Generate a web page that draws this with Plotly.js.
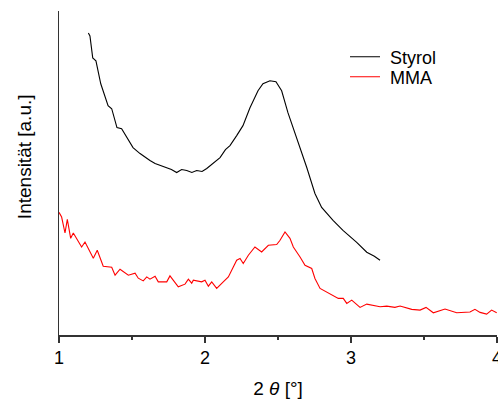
<!DOCTYPE html>
<html>
<head>
<meta charset="utf-8">
<script src="https://cdn.plot.ly/plotly-3.0.1.min.js"></script>
<style>html,body{margin:0;padding:0;background:#fff;}#chart{width:498px;height:401px;}</style>
</head>
<body>
<div id="chart"></div>
<script>
// 2θ values (°) and intensities (a.u.)
var styrolX = [1.201,1.212,1.231,1.253,1.286,1.301,1.336,1.361,1.397,1.429,1.466,1.507,1.555,1.590,1.623,1.658,1.700,1.738,1.770,1.806,1.840,1.875,1.910,1.943,1.980,2.012,2.055,2.103,2.140,2.171,2.217,2.260,2.308,2.363,2.397,2.445,2.486,2.525,2.568,2.628,2.697,2.753,2.799,2.877,2.945,3.039,3.108,3.160,3.199];
var styrolY = [303,300,278,275,252,245,230,227,208,207,198,188,182,178,175,172,170,168,166,163,166,165,163,165,164,167,172,178,186,190,200,210,228,245,252,255,254,245,223,198,168,142,128,115,105,93,83,79,75];

var mmaX = [1.000,1.018,1.041,1.057,1.080,1.098,1.155,1.178,1.235,1.262,1.303,1.361,1.384,1.418,1.475,1.521,1.543,1.577,1.601,1.623,1.658,1.680,1.738,1.760,1.817,1.863,1.886,1.909,1.920,1.977,2.000,2.023,2.046,2.080,2.125,2.160,2.217,2.240,2.262,2.297,2.342,2.388,2.434,2.491,2.514,2.548,2.582,2.605,2.651,2.685,2.731,2.753,2.788,2.845,2.913,2.947,2.971,3.005,3.062,3.108,3.199,3.245,3.301,3.336,3.382,3.416,3.473,3.514,3.564,3.644,3.724,3.815,3.849,3.884,3.929,3.963,3.998];
var mmaY = [123,118.3,102.3,116,97,102.3,88.3,93.3,77,85,69,68,60,66,60,62,57,54.3,58.3,56,59,53.3,53.3,59.3,48.3,51,56,52,55,53.3,55,49,53.3,46.7,53.3,58.3,75,76.7,71.7,80,88.3,83.3,90,90.7,95,103.3,97,88.3,78.3,70,66.7,56.7,46.7,42.3,36.7,36.7,31.7,35,27.7,31,28.3,29,27.7,29,26.7,25.7,25,27.7,22.3,26,22.3,23,25.7,22.7,21,25,22.3];

var seriesNames = ['Styrol','MMA'];
var xTickVals = [1, 2, 3, 4];
var xTickText = ['1', '2', '3', '4'];
var xTitle = '2 <i>θ</i> [°]';
var yTitle = 'Intensität [a.u.]';

var font = 'Liberation Sans, Arial, sans-serif';
var traces = [
  {x: styrolX, y: styrolY, name: '\u00a0' + seriesNames[0], legend: 'legend', mode: 'lines', line: {color: '#000000', width: 1.1}},
  {x: mmaX, y: mmaY, name: '\u00a0' + seriesNames[1], legend: 'legend2', mode: 'lines', line: {color: '#ff0000', width: 1.1}}
];
var legendBase = {xanchor: 'left', yanchor: 'middle', font: {size: 18, family: font, color: '#000'}, bgcolor: 'rgba(0,0,0,0)', borderwidth: 0};
var layout = {
  width: 498, height: 401,
  margin: {l: 59, r: 1, t: 11, b: 66},
  paper_bgcolor: '#fff', plot_bgcolor: '#fff',
  font: {family: font, color: '#000', size: 18},
  showlegend: true,
  legend: Object.assign({}, legendBase, {x: 0.653, y: 0.858}),
  legend2: Object.assign({}, legendBase, {x: 0.653, y: 0.796}),
  xaxis: {
    range: [1, 4], tickvals: xTickVals, ticktext: xTickText, ticklabeloverflow: 'allow',
    showline: true, linecolor: '#333', linewidth: 1.5, ticks: 'outside', ticklen: 6, tickwidth: 1.2, tickcolor: '#333',
    minor: {dtick: 0.5, ticks: 'outside', ticklen: 3.5, tickwidth: 1.2, tickcolor: '#333'},
    showgrid: false, zeroline: false, tickfont: {size: 18, family: font},
    title: {text: xTitle, font: {size: 19, family: font}, standoff: 14}
  },
  yaxis: {
    range: [0, 325], showline: true, linecolor: '#333', linewidth: 1.5, ticks: '', showticklabels: false,
    showgrid: false, zeroline: false
  },
  annotations: [{
    text: yTitle, xref: 'paper', yref: 'paper', x: -0.0799, y: 0.549,
    xanchor: 'center', yanchor: 'middle', textangle: -90, showarrow: false,
    font: {size: 19, family: font, color: '#000'}
  }]
};
Plotly.newPlot('chart', traces, layout, {displayModeBar: false, staticPlot: true});
</script>
</body>
</html>
